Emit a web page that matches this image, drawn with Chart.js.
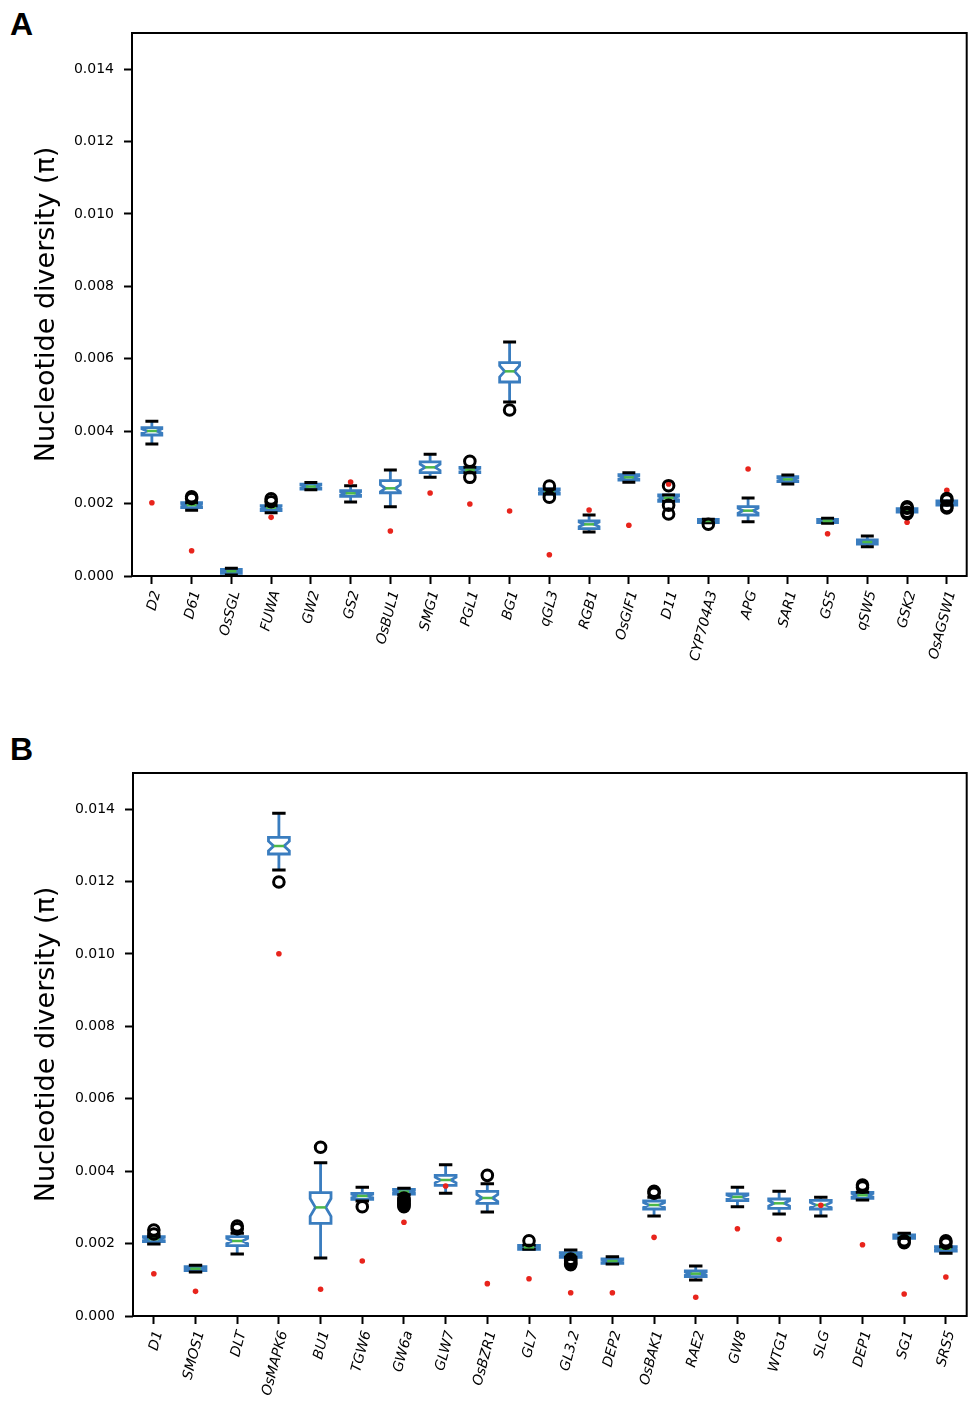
<!DOCTYPE html>
<html>
<head>
<meta charset="utf-8">
<script src="https://cdn.jsdelivr.net/npm/chart.js@4.4.1/dist/chart.umd.min.js"></script>
<style>
    body { margin: 0; background: #fff; width: 975px; height: 1408px; position: relative; overflow: hidden; }
    .panel { position: absolute; left: 0; width: 975px; height: 704px; }
    .tag { position: absolute; left: 10px; font: bold 32px 'Liberation Sans', Arial, sans-serif; line-height: 32px; color: #000; }
</style>
</head>
<body>
<div class="tag" style="top:8px">A</div>
<div class="tag" style="top:733px">B</div>
<div class="panel" style="top:0"><canvas id="chartA"></canvas></div>
<div class="panel" style="top:704px"><canvas id="chartB"></canvas></div>

<script>
// y axis ticks (both panels)
const yTicks = [0, 0.002, 0.004, 0.006, 0.008, 0.010, 0.012, 0.014];

// ---- Panel A ----
const genesA = ['D2', 'D61', 'OsSGL', 'FUWA', 'GW2', 'GS2', 'OsBUL1', 'SMG1', 'PGL1', 'BG1', 'qGL3',
    'RGB1', 'OsGIF1', 'D11', 'CYP704A3', 'APG', 'SAR1', 'GS5', 'qSW5', 'GSK2', 'OsAGSW1'];
const lowA = [0.003646, 0.001815, 0.00003, 0.00175, 0.00238, 0.002044, 0.001915, 0.002726, 0.002855, 0.004807, 0.002265,
    0.001215, 0.002588, 0.002063, 0.001473, 0.0015, 0.00254, 0.001455, 0.00081, 0.001768, 0.001961];
const q1A = [0.003895, 0.001887, 0.000075, 0.00181, 0.0024, 0.0022, 0.0023, 0.002855, 0.002855, 0.005359, 0.002265,
    0.001307, 0.002652, 0.002063, 0.001473, 0.001685, 0.002605, 0.001473, 0.000884, 0.001768, 0.001961];
const medA = [0.004006, 0.00196, 0.00013, 0.00189, 0.00247, 0.002284, 0.002422, 0.003002, 0.002928, 0.005654, 0.00233,
    0.001427, 0.002726, 0.002155, 0.00152, 0.001805, 0.00267, 0.00152, 0.000939, 0.001823, 0.002017];
const q3A = [0.004097, 0.002025, 0.000185, 0.00194, 0.00254, 0.002356, 0.002633, 0.00315, 0.003002, 0.005893, 0.002403,
    0.001519, 0.002799, 0.002238, 0.001566, 0.001915, 0.002744, 0.001566, 0.000994, 0.00186, 0.002072];
const highA = [0.004273, 0.002025, 0.000212, 0.00194, 0.00258, 0.002495, 0.002928, 0.003361, 0.003002, 0.006464, 0.002403,
    0.001685, 0.002855, 0.002238, 0.001566, 0.002155, 0.00279, 0.001593, 0.001105, 0.00186, 0.002072];
const outliersA = [[], [0.00219, 0.00214], [], [0.00213, 0.00205], [], [], [], [], [0.003168, 0.002726], [0.004586],
    [0.002486, 0.002174], [], [], [0.002495, 0.001953, 0.001712], [0.00143], [], [], [], [],
    [0.00191, 0.00187, 0.00176, 0.00172], [0.00214, 0.0021, 0.00192, 0.00188]];
const redA = [0.002025, 0.000699, null, 0.00162, null, 0.002597, 0.001243, 0.002293, 0.001989, 0.001796, 0.000589,
    0.001823, 0.0014, 0.00254, null, 0.002956, null, 0.001169, null, 0.001483, 0.002367];

// ---- Panel B ----
const genesB = ['D1', 'SMOS1', 'DLT', 'OsMAPK6', 'BU1', 'TGW6', 'GW6a', 'GLW7', 'OsBZR1', 'GL7',
    'GL3.2', 'DEP2', 'OsBAK1', 'RAE2', 'GW8', 'WTG1', 'SLG', 'DEP1', 'SG1', 'SRS5'];
const lowB = [0.001989, 0.001215, 0.001713, 0.01232, 0.001602, 0.00318, 0.00335, 0.00339, 0.002873, 0.001842,
    0.001621, 0.001436, 0.002762, 0.000994, 0.003019, 0.002818, 0.002762, 0.003204, 0.002145, 0.001732];
const q1B = [0.002053, 0.001252, 0.001942, 0.012762, 0.002561, 0.003223, 0.00337, 0.00361, 0.003113, 0.001842,
    0.001621, 0.001455, 0.002956, 0.001086, 0.003186, 0.002975, 0.002956, 0.003251, 0.002145, 0.001796];
const medB = [0.002127, 0.001307, 0.002072, 0.012983, 0.003, 0.003315, 0.003434, 0.003757, 0.00326, 0.001897,
    0.001694, 0.001519, 0.003066, 0.001169, 0.003287, 0.003113, 0.003066, 0.003334, 0.00219, 0.00186];
const q3B = [0.002191, 0.001362, 0.002191, 0.013224, 0.003406, 0.00339, 0.0035, 0.003886, 0.003445, 0.001953,
    0.001749, 0.001575, 0.003177, 0.001243, 0.00337, 0.003232, 0.003196, 0.003417, 0.002238, 0.001915];
const highB = [0.002191, 0.0014, 0.002284, 0.013887, 0.004235, 0.003555, 0.003527, 0.00418, 0.00365, 0.001953,
    0.001823, 0.001638, 0.003278, 0.001381, 0.003555, 0.003445, 0.003278, 0.003417, 0.002284, 0.001915];
const outliersB = [[0.002376, 0.002265], [], [0.002486, 0.00241], [0.011989], [0.00466], [0.00302],
    [0.00326, 0.00322, 0.00318, 0.00314, 0.0031, 0.00306, 0.00302], [], [0.003886], [0.00208],
    [0.00157, 0.00153, 0.00149, 0.00145, 0.00142], [], [0.003445, 0.00339], [], [], [], [],
    [0.003619, 0.00356], [0.00208, 0.002025], [0.00208, 0.00201]];
const redB = [0.001169, 0.000681, null, 0.010008, 0.000737, 0.001519, 0.002588, 0.00359, 0.000893, 0.001031,
    0.000644, 0.000644, 0.002173, 0.000516, 0.002412, 0.002118, 0.00306, 0.00197, 0.000608, 0.001077];

const BOX_BLUE = '#3a7dbf';
const MEDIAN_GREEN = '#4cb84a';
const NOTCH = 0.29; // notch half-height as share of IQR

// draws notched boxes, whiskers, caps and medians from the stats through the chart scales
const boxPlugin = {
    id: 'boxes',
    beforeDatasetsDraw(chart, args, opts) {
        const { ctx } = chart;
        const xs = chart.scales.x, ys = chart.scales.y;
        const step = xs.getPixelForValue(1) - xs.getPixelForValue(0);
        const hw = step * 0.25, cw = step * 0.125;
        ctx.save();
        ctx.lineJoin = 'miter';
        opts.q1.forEach((q1, i) => {
            const cx = xs.getPixelForValue(i);
            const q3 = opts.q3[i], med = opts.med[i];
            const nh = (q3 - q1) * NOTCH;
            const Y = v => ys.getPixelForValue(v);
            const L = cx - hw, R = cx + hw;
            // box
            ctx.strokeStyle = BOX_BLUE;
            ctx.lineWidth = 2.8;
            ctx.lineCap = 'butt';
            ctx.beginPath();
            ctx.moveTo(L, Y(q1));
            ctx.lineTo(R, Y(q1));
            ctx.lineTo(R, Y(med - nh));
            ctx.lineTo(cx + cw, Y(med));
            ctx.lineTo(R, Y(med + nh));
            ctx.lineTo(R, Y(q3));
            ctx.lineTo(L, Y(q3));
            ctx.lineTo(L, Y(med + nh));
            ctx.lineTo(cx - cw, Y(med));
            ctx.lineTo(L, Y(med - nh));
            ctx.closePath();
            ctx.stroke();
            // whiskers
            ctx.beginPath();
            ctx.moveTo(cx, Y(q1));
            ctx.lineTo(cx, Y(opts.low[i]));
            ctx.moveTo(cx, Y(q3));
            ctx.lineTo(cx, Y(opts.high[i]));
            ctx.stroke();
            // caps
            ctx.strokeStyle = '#000';
            ctx.lineWidth = 3;
            ctx.lineCap = 'square';
            ctx.beginPath();
            ctx.moveTo(cx - cw, Y(opts.low[i]));
            ctx.lineTo(cx + cw, Y(opts.low[i]));
            ctx.moveTo(cx - cw, Y(opts.high[i]));
            ctx.lineTo(cx + cw, Y(opts.high[i]));
            ctx.stroke();
            // median
            ctx.strokeStyle = MEDIAN_GREEN;
            ctx.lineWidth = 2.5;
            ctx.lineCap = 'butt';
            ctx.beginPath();
            ctx.moveTo(cx - cw, Y(med));
            ctx.lineTo(cx + cw, Y(med));
            ctx.stroke();
        });
        ctx.restore();
    },
    afterDraw(chart) {
        // frame round the plot area
        const { ctx, chartArea: a } = chart;
        ctx.save();
        ctx.strokeStyle = '#000';
        ctx.lineWidth = 2;
        ctx.strokeRect(a.left, a.top, a.right - a.left, a.bottom - a.top);
        ctx.restore();
    }
};

function makeChart(id, genes, low, q1, med, q3, high, outliers, red, frame) {
    // category scale needs the label itself as x
    const outlierPts = [];
    outliers.forEach((list, i) => list.forEach(v => outlierPts.push({ x: genes[i], y: v })));
    const redPts = [];
    red.forEach((v, i) => { if (v !== null) redPts.push({ x: genes[i], y: v }); });

    return new Chart(document.getElementById(id), {
        type: 'bar',
        data: {
            labels: genes,
            datasets: [
                {
                    type: 'scatter',
                    label: 'outliers',
                    data: outlierPts,
                    pointStyle: 'circle',
                    pointRadius: 5.3,
                    pointBorderWidth: 3,
                    pointBorderColor: '#000',
                    pointBackgroundColor: 'rgba(0,0,0,0)'
                },
                {
                    type: 'scatter',
                    label: 'pi',
                    data: redPts,
                    pointStyle: 'circle',
                    pointRadius: 2.8,
                    pointBorderWidth: 0,
                    pointBackgroundColor: '#e8241c'
                }
            ]
        },
        options: {
            responsive: true,
            maintainAspectRatio: false,
            animation: false,
            layout: {
                padding: { left: 0, right: frame.right, top: frame.top, bottom: 0 }
            },
            plugins: {
                legend: { display: false },
                tooltip: { enabled: false },
                boxes: { low, q1, med, q3, high }
            },
            scales: {
                x: {
                    type: 'category',
                    offset: true,
                    border: { display: false },
                    grid: {
                        display: true,
                        offset: false,
                        drawOnChartArea: false,
                        drawTicks: true,
                        tickLength: 8,
                        tickWidth: 2,
                        tickColor: '#000'
                    },
                    ticks: {
                        autoSkip: false,
                        minRotation: 75,
                        maxRotation: 75,
                        padding: 5,
                        labelOffset: 5,
                        color: '#000',
                        font: { family: 'DejaVu Sans', size: 14, style: 'italic' }
                    },
                    afterFit: s => { s.height = frame.xHeight; }
                },
                y: {
                    min: 0,
                    max: 0.015,
                    border: { display: false },
                    grid: {
                        display: true,
                        drawOnChartArea: false,
                        drawTicks: true,
                        tickLength: 8,
                        tickWidth: 2,
                        tickColor: '#000'
                    },
                    afterBuildTicks: s => { s.ticks = yTicks.map(v => ({ value: v })); },
                    ticks: {
                        padding: 10,
                        color: '#000',
                        font: { family: 'DejaVu Sans', size: 14 },
                        callback: v => v.toFixed(3)
                    },
                    title: {
                        display: true,
                        text: 'Nucleotide diversity (π)',
                        color: '#000',
                        font: { family: 'DejaVu Sans', size: 27 },
                        padding: { top: 31, bottom: 0 }
                    },
                    afterFit: s => { s.width = frame.yWidth; }
                }
            }
        },
        plugins: [boxPlugin]
    });
}

makeChart('chartA', genesA, lowA, q1A, medA, q3A, highA, outliersA, redA,
    { top: 33, right: 6, yWidth: 132, xHeight: 128 });
makeChart('chartB', genesB, lowB, q1B, medB, q3B, highB, outliersB, redB,
    { top: 69, right: 5, yWidth: 133, xHeight: 92 });
</script>
</body>
</html>
